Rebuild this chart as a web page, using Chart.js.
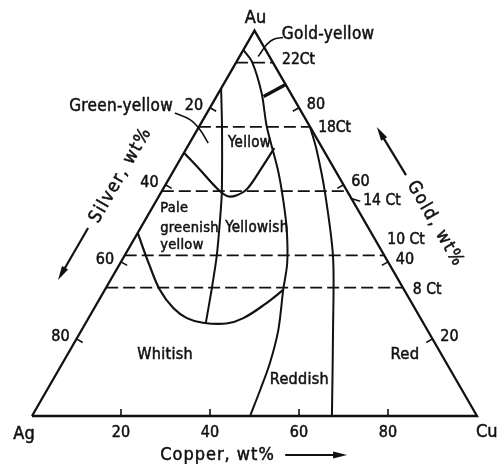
<!DOCTYPE html>
<html lang="en">
<head>
<meta charset="UTF-8">
<title>Colours of Au-Ag-Cu alloys</title>
<script src="https://cdn.jsdelivr.net/npm/chart.js"></script>
<style>
  html, body { margin: 0; padding: 0; background: #fff; }
</style>
</head>
<body>
<canvas id="colourChart" width="497" height="464"></canvas>
<script>
// every point is [Cu wt%, Au wt%]; silver is whatever is left
const triangle = [[0, 0], [100, 0], [0, 100], [0, 0]];
const yellowLeft = [[0, 85], [5.3, 74.8], [13.7, 57.9], [16.8, 50.9], [20.8, 41.4], [24, 32.7], [27, 24.1]];
const yellowRight = [[0, 95], [3.5, 91.9], [9.7, 83.8], [15.2, 75.1], [23.3, 63.9], [28.4, 56.1], [33.1, 48.3],
  [37.5, 39.7], [40.1, 32.7], [44.2, 22.3], [46.6, 13.7], [47.9, 6.75], [49, 0]];
const redLine = [[24.9, 75.1], [29.4, 69.1], [36.9, 57.9], [47, 41.3], [56.5, 22.3], [67.4, 0]];
const goldYellowEdge = [[10.6, 82.9], [14, 86]];
const greenYellowCurve = [[0, 68.3], [5.8, 63.9], [12, 59.1], [15.5, 57.0], [17.4, 57.3], [18.9, 59.0],
  [19.4, 64.0], [19.7, 69.5]];
const whitishCurve = [[0, 47.5], [7.1, 38.8], [12.4, 32.7], [17.75, 28.0], [22.1, 25.4], [26.3, 24.2],
  [31.65, 24.0], [34.8, 25.4], [38.05, 29.3], [40.1, 32.7]];
const greenYellowLeader = [[-7.2, 78.6], [-2.95, 76.9], [0.6, 74.3], [4.2, 70.8]];
const goldYellowLeader = [[7.3, 98.2], [5.35, 97.7], [4.55, 96.4], [4.3, 94.6], [4.2, 93.3]];

const karatGold = [91.67, 75, 58.33, 41.67, 33.33];
const karatLabels = ['22Ct', '18Ct', '14 Ct', '10 Ct', '8 Ct'];
const tickValues = [20, 40, 60, 80];

const H = Math.sqrt(3) / 2;
const ink = '#111';
const font = "'DejaVu Sans Condensed', 'DejaVu Sans', sans-serif";

const toXY = ([cu, au]) => ({ x: cu + au / 2, y: au * H });
const gap = { x: NaN, y: NaN };

function line(xy, width, extra) {
  return Object.assign({
    data: xy,
    showLine: true,
    borderColor: ink,
    borderWidth: width,
    pointRadius: 0,
    tension: 0.35,
    fill: false
  }, extra || {});
}

// karat lines run edge to edge at constant gold
const karatData = [];
karatGold.forEach(g => {
  karatData.push(toXY([0, g]), toXY([100 - g, g]), gap);
});

// short ticks pointing into the triangle
const L = 1.6;
const tickData = [];
tickValues.forEach(v => {
  const b = toXY([v, 0]);
  tickData.push(b, { x: b.x, y: b.y + L }, gap);
  const l = toXY([0, 100 - v]);
  tickData.push(l, { x: l.x + L * H, y: l.y - L / 2 }, gap);
  const r = toXY([100 - v, v]);
  tickData.push(r, { x: r.x - L * H, y: r.y - L / 2 }, gap);
});

const texts = [
  { t: 'Yellow', p: [8.6, 70.9], size: 15, align: 'left' },
  { t: 'Yellowish', p: [19.0, 48.8], size: 15, align: 'left' },
  { t: 'Pale', p: [1.8, 54.0], size: 14.5, align: 'left' },
  { t: 'greenish', p: [4.4, 48.8], size: 14.5, align: 'left' },
  { t: 'yellow', p: [6.6, 44.4], size: 14.5, align: 'left' },
  { t: 'Whitish', p: [22.0, 15.8], size: 16, align: 'center' },
  { t: 'Reddish', p: [48.8, 9.3], size: 16, align: 'left' },
  { t: 'Red', p: [75.9, 15.8], size: 16.5, align: 'center' },
  { t: 'Green-yellow', p: [-8.5, 80.4], size: 17, align: 'right' },
  { t: 'Gold-yellow', p: [6.6, 99.1], size: 17, align: 'left' }
];
const karatOffsets = [[9, -3], [8, 1], [16, 10], [3, -15], [10, 2.5]];

const annotate = {
  id: 'annotate',
  afterDatasetsDraw(chart) {
    const { ctx } = chart;
    const sx = chart.scales.x, sy = chart.scales.y;
    const P = ([cu, au]) => [sx.getPixelForValue(cu + au / 2), sy.getPixelForValue(au * H)];
    // normal face with a hairline outline, to get the medium weight of the print
    const put = (t, x, y, size, align, spacing) => {
      ctx.font = size + 'px ' + font;
      ctx.textAlign = align;
      ctx.letterSpacing = (spacing || 0) + 'px';
      ctx.lineWidth = 0.5;
      ctx.fillText(t, x, y);
      ctx.strokeText(t, x, y);
    };
    const arrow = (a, b) => {
      const ang = Math.atan2(b[1] - a[1], b[0] - a[0]);
      const c = Math.cos(ang), s = Math.sin(ang);
      ctx.beginPath();
      ctx.moveTo(a[0], a[1]);
      ctx.lineTo(b[0] - 8 * c, b[1] - 8 * s);
      ctx.lineWidth = 2.2;
      ctx.stroke();
      ctx.beginPath();
      ctx.moveTo(b[0], b[1]);
      ctx.lineTo(b[0] - 14 * c + 3.5 * s, b[1] - 14 * s - 3.5 * c);
      ctx.lineTo(b[0] - 14 * c - 3.5 * s, b[1] - 14 * s + 3.5 * c);
      ctx.closePath();
      ctx.fill();
    };

    ctx.save();
    ctx.fillStyle = ink;
    ctx.strokeStyle = ink;
    ctx.textBaseline = 'middle';

    // corners
    let p = P([0, 100]); put('Au', p[0] + 1, p[1] - 12, 18, 'center');
    p = P([0, 0]); put('Ag', p[0] - 8, p[1] + 18, 18, 'center');
    p = P([100, 0]); put('Cu', p[0] - 1, p[1] + 16, 18, 'left');

    // tick labels on the three sides
    tickValues.forEach(v => {
      let q = P([v, 0]); put(String(v), q[0], q[1] + 17, 16, 'center');
      q = P([0, 100 - v]); put(String(v), q[0] - 16, q[1] - 2, 16, 'center');
      q = P([100 - v, v]); put(String(v), q[0] + 17, q[1] - 2.5, 16, 'center');
    });

    // carat labels at the right ends of the dashed lines
    karatGold.forEach((g, i) => {
      const q = P([100 - g, g]);
      put(karatLabels[i], q[0] + karatOffsets[i][0], q[1] + karatOffsets[i][1], 15.5, 'left');
    });
    p = P([100 - karatGold[2], karatGold[2]]);
    ctx.lineWidth = 1.6;
    ctx.beginPath();
    ctx.moveTo(p[0] + 3, p[1] + 7);
    ctx.lineTo(p[0] + 13, p[1] + 10);
    ctx.stroke();

    texts.forEach(d => {
      const q = P(d.p);
      put(d.t, q[0], q[1], d.size, d.align, 0.3);
    });

    // axis titles with arrows
    const down = (q, dy) => [q[0], q[1] + dy];
    p = P([28.8, 0]); put('Copper, wt%', p[0], p[1] + 39, 18, 'left', 1);
    arrow(down(P([56.9, 0]), 39), down(P([70.8, 0]), 39));

    arrow(P([-11.8, 48.8]), P([-11.8, 35.3]));
    p = P([-11.3, 62.5]);
    ctx.save();
    ctx.translate(p[0], p[1]);
    ctx.rotate(-Math.PI / 3);
    put('Silver, wt%', 0, 0, 18, 'center', 1.5);
    ctx.restore();

    arrow(P([52.8, 62.5]), P([40.0, 75.0]));
    p = P([65.7, 49.8]);
    ctx.save();
    ctx.translate(p[0], p[1]);
    ctx.rotate(Math.PI / 3);
    put('Gold, wt%', 0, 0, 18, 'center', 1.5);
    ctx.restore();

    ctx.restore();
  }
};

new Chart(document.getElementById('colourChart'), {
  type: 'scatter',
  data: {
    datasets: [
      line(triangle.map(toXY), 2.3, { tension: 0 }),
      line(karatData, 1.7, { tension: 0, borderDash: [12, 5] }),
      line(tickData, 1.6, { tension: 0 }),
      line(yellowLeft.map(toXY), 2, { tension: 0.2 }),
      line(yellowRight.map(toXY), 2, { tension: 0.3 }),
      line(redLine.map(toXY), 2, { tension: 0.3 }),
      line(goldYellowEdge.map(toXY), 3.4, { tension: 0 }),
      line(greenYellowCurve.map(toXY), 2.2, { tension: 0.35 }),
      line(whitishCurve.map(toXY), 2.2, { tension: 0.4 }),
      line(greenYellowLeader.map(toXY), 1.6, { tension: 0.4 }),
      line(goldYellowLeader.map(toXY), 1.6, { tension: 0.4 })
    ]
  },
  options: {
    responsive: false,
    animation: false,
    devicePixelRatio: 1,
    layout: { padding: 0 },
    plugins: { legend: { display: false }, tooltip: { enabled: false } },
    scales: {
      x: { type: 'linear', display: false, min: -7.191, max: 104.494 },
      y: { type: 'linear', display: false, min: -10.787, max: 93.483 }
    }
  },
  plugins: [annotate]
});
</script>
</body>
</html>
